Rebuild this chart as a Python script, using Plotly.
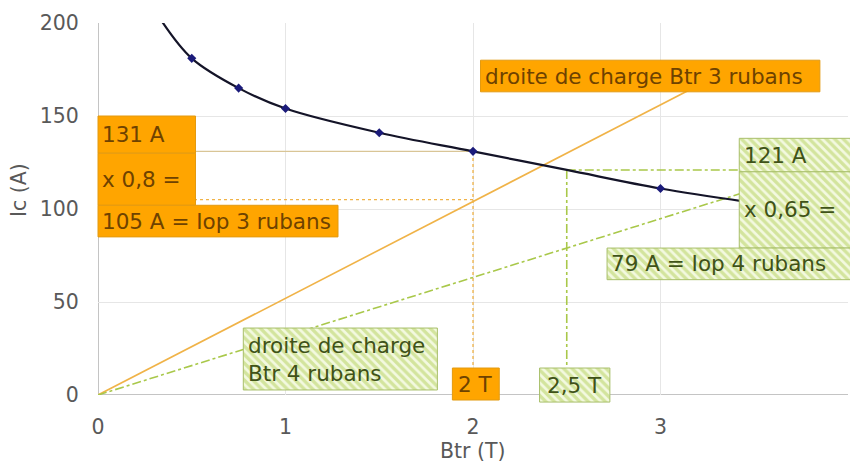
import plotly.graph_objects as go

# Critical current of the tape versus transverse field
b_meas = [0.5, 0.75, 1.0, 1.5, 2.0, 3.0]
ic_meas = [181, 165, 154, 141, 131, 111]
b_curve = [0.34, 0.5, 0.75, 1.0, 1.5, 2.0, 2.5, 3.0, 3.45]
ic_curve = [201, 181, 165, 154, 141, 131, 121, 111, 104]

# Load lines (Ic proportional to Btr)
b_load3 = [0.0, 3.2]
ic_load3 = [0.0, 166.4]
b_load4 = [0.0, 3.5]
ic_load4 = [0.0, 110.6]

# Operating points
b_op3, ic_op3, iop3 = 2.0, 131, 105
b_op4, ic_op4, iop4 = 2.5, 121, 79
b_right_edge = 3.42

x_ticks = [0, 1, 2, 3, 4]
y_ticks = [0, 50, 100, 150, 200]

ORANGE = "#ffa500"
ORANGE_TXT = "#6e4200"
GREEN_TXT = "#3f5218"
HATCH_FG = "#b3d05a"
HATCH_BG = "#f3f9e0"
LINE_ORANGE = "#f0b348"
LINE_GREEN = "#a9c84a"
FONT = "DejaVu Sans"
FS = 21.5

# Label boxes: (x0, x1, y0, y1, text, style, align)
boxes = [
    (0.0, 0.52, 130, 150, "131 A", "orange", "left"),
    (0.0, 0.52, 102, 130, "x 0,8 =", "orange", "left"),
    (0.0, 1.28, 85, 102, "105 A = Iop 3 rubans", "orange", "left"),
    (2.04, 3.85, 163, 180, "droite de charge Btr 3 rubans", "orange", "left"),
    (1.89, 2.14, -2.7, 14.5, "2 T", "orange", "center"),
    (3.42, 4.02, 120, 138, "121 A", "hatch", "left"),
    (3.42, 4.02, 79, 120, "x 0,65 =", "hatch", "left"),
    (2.715, 4.02, 62, 79, "79 A = Iop 4 rubans", "hatch", "left"),
    (0.775, 1.81, 2.7, 36, "droite de charge<br>Btr 4 rubans", "hatch", "left"),
    (2.355, 2.73, -3.8, 14.5, "2,5 T", "hatch", "center"),
]

fig = go.Figure()

# Guide lines for the two operating points
fig.add_trace(go.Scatter(x=[0, b_op3], y=[ic_op3, ic_op3], mode="lines",
                         line=dict(color="#d9c596", width=1.3), hoverinfo="skip"))
fig.add_trace(go.Scatter(x=[0, b_op3], y=[iop3, iop3], mode="lines",
                         line=dict(color=LINE_ORANGE, width=1.3, dash="dot"), hoverinfo="skip"))
fig.add_trace(go.Scatter(x=[b_op3, b_op3], y=[0, ic_op3], mode="lines",
                         line=dict(color=LINE_ORANGE, width=1.3, dash="dot"), hoverinfo="skip"))
fig.add_trace(go.Scatter(x=[b_op4, b_op4], y=[0, ic_op4], mode="lines",
                         line=dict(color=LINE_GREEN, width=1.6, dash="dashdot"), hoverinfo="skip"))
fig.add_trace(go.Scatter(x=[b_op4, b_right_edge], y=[ic_op4, ic_op4], mode="lines",
                         line=dict(color=LINE_GREEN, width=1.6, dash="dashdot"), hoverinfo="skip"))

# Load lines
fig.add_trace(go.Scatter(x=b_load3, y=ic_load3, mode="lines",
                         line=dict(color=LINE_ORANGE, width=1.6), hoverinfo="skip"))
fig.add_trace(go.Scatter(x=b_load4, y=ic_load4, mode="lines",
                         line=dict(color=LINE_GREEN, width=1.6, dash="dashdot"), hoverinfo="skip"))

# Ic(B) curve and measured points
fig.add_trace(go.Scatter(x=b_curve, y=ic_curve, mode="lines", line_shape="spline",
                         line=dict(color="#141428", width=2.2), hoverinfo="skip"))
fig.add_trace(go.Scatter(x=b_meas, y=ic_meas, mode="markers",
                         marker=dict(symbol="diamond", size=7, color="#1b1b7a"), hoverinfo="skip"))

# Label boxes drawn on a full-figure overlay so they can spill past the plot frame
for x0, x1, y0, y1, text, style, align in boxes:
    xs = [x0, x1, x1, x0, x0]
    ys = [y0, y0, y1, y1, y0]
    if style == "orange":
        fig.add_trace(go.Scatter(x=xs, y=ys, xaxis="x2", yaxis="y2", mode="lines",
                                 fill="toself", fillcolor=ORANGE,
                                 line=dict(color="#e39a10", width=1), hoverinfo="skip"))
        color = ORANGE_TXT
    else:
        fig.add_trace(go.Scatter(x=xs, y=ys, xaxis="x2", yaxis="y2", mode="lines",
                                 fill="toself", fillcolor=HATCH_BG,
                                 fillpattern=dict(shape="\\", fgcolor=HATCH_FG, bgcolor=HATCH_BG,
                                                  size=6, solidity=0.55),
                                 line=dict(color="#a8bf6a", width=1), hoverinfo="skip"))
        color = GREEN_TXT
    if align == "center":
        fig.add_annotation(x=(x0 + x1) / 2, y=(y0 + y1) / 2, xref="x2", yref="y2",
                           text=text, showarrow=False, xanchor="center", yanchor="middle",
                           font=dict(family=FONT, size=FS, color=color))
    else:
        fig.add_annotation(x=x0 + 0.012, y=(y0 + y1) / 2, xref="x2", yref="y2",
                           text=text, showarrow=False, xanchor="left", yanchor="middle",
                           align="left", font=dict(family=FONT, size=FS, color=color))

# Axis titles
fig.add_annotation(x=0.5 * (98 + 848) / 850, y=(462 - 451) / 462, xref="paper", yref="paper",
                   text="Btr (T)", showarrow=False, xanchor="center", yanchor="middle",
                   font=dict(family=FONT, size=FS - 1, color="#595959"))
fig.add_annotation(x=19 / 850, y=(462 - 190) / 462, xref="paper", yref="paper",
                   text="Ic (A)", showarrow=False, textangle=-90, xanchor="center", yanchor="middle",
                   font=dict(family=FONT, size=FS - 1, color="#595959"))

fig.update_layout(
    width=850, height=462,
    margin=dict(l=0, r=0, t=0, b=0, autoexpand=False),
    paper_bgcolor="white", plot_bgcolor="rgba(0,0,0,0)",
    showlegend=False,
    font=dict(family=FONT, size=FS, color="#595959"),
    xaxis=dict(domain=[98 / 850, 848 / 850], range=[0, 4], tickvals=x_ticks,
               showgrid=True, gridcolor="#e6e6e6", gridwidth=1,
               zeroline=False, showline=False, automargin=False,
               ticks="outside", ticklen=13, tickcolor="rgba(0,0,0,0)",
               tickfont=dict(family=FONT, size=FS - 1, color="#595959"), fixedrange=True),
    yaxis=dict(domain=[67 / 462, 439 / 462], range=[0, 200], tickvals=y_ticks,
               showgrid=True, gridcolor="#e6e6e6", gridwidth=1,
               zeroline=False, showline=False, automargin=False,
               ticks="outside", ticklen=14, tickcolor="rgba(0,0,0,0)",
               tickfont=dict(family=FONT, size=FS - 1, color="#595959"), fixedrange=True),
    xaxis2=dict(domain=[0, 1], range=[-98 / 187.5, (850 - 98) / 187.5], anchor="y2",
                visible=False, fixedrange=True),
    yaxis2=dict(domain=[0, 1], range=[-(462 - 395) / 1.86, 200 + 23 / 1.86], anchor="x2",
                visible=False, fixedrange=True),
)

# Frame: left axis and bottom axis lines
fig.add_shape(type="line", xref="x", yref="y", x0=0, x1=0, y0=0, y1=200,
              line=dict(color="#c4c4c4", width=2), layer="below")
fig.add_shape(type="line", xref="x", yref="y", x0=0, x1=4, y0=0, y1=0,
              line=dict(color="#c4c4c4", width=2), layer="below")

fig.write_html("out.html")
